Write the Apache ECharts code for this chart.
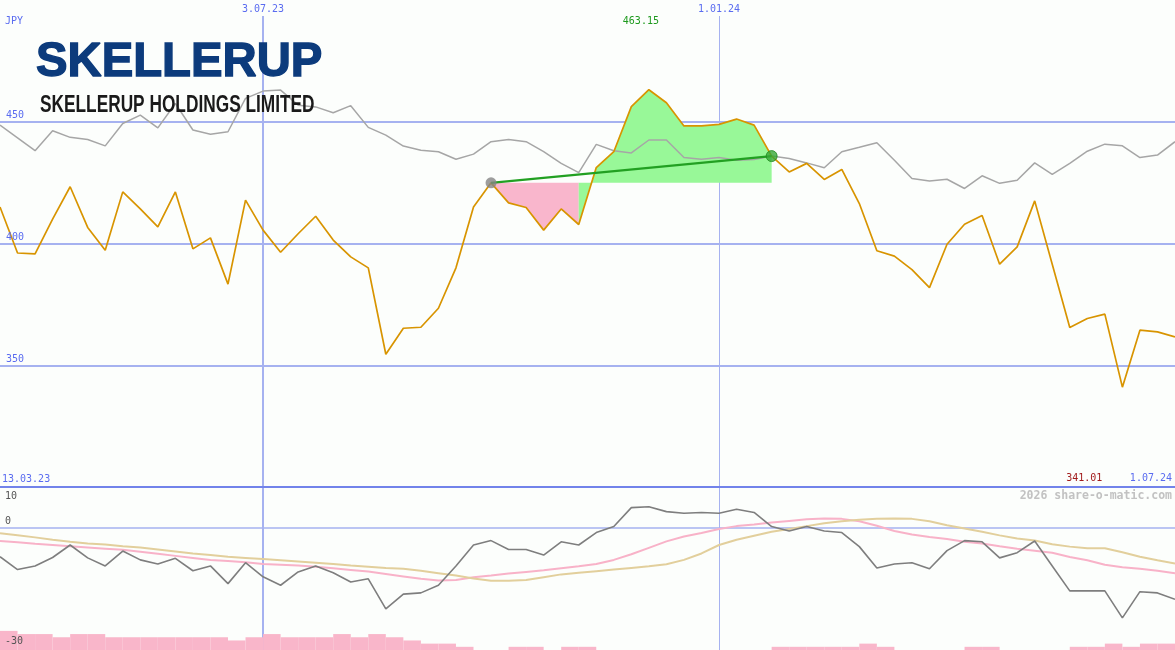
<!DOCTYPE html>
<html>
<head>
<meta charset="utf-8">
<script src="https://cdn.jsdelivr.net/npm/echarts@6/dist/echarts.min.js"></script>
<style>
html,body{margin:0;padding:0;background:#fcfefc;}
#c{width:1175px;height:650px;}
</style>
</head>
<body>
<div id="c"></div>
<script>
// ---------- data ----------
const weeks = ['20.03.23','27.03.23','3.04.23','10.04.23','17.04.23','24.04.23','1.05.23','8.05.23','15.05.23','22.05.23',
  '29.05.23','5.06.23','12.06.23','19.06.23','26.06.23','3.07.23','10.07.23','17.07.23','24.07.23','31.07.23',
  '7.08.23','14.08.23','21.08.23','28.08.23','4.09.23','11.09.23','18.09.23','25.09.23','2.10.23','9.10.23',
  '16.10.23','23.10.23','30.10.23','6.11.23','13.11.23','20.11.23','27.11.23','4.12.23','11.12.23','18.12.23',
  '25.12.23','1.01.24','8.01.24','15.01.24','22.01.24','29.01.24','5.02.24','12.02.24','19.02.24','26.02.24',
  '4.03.24','11.03.24','18.03.24','25.03.24','1.04.24','8.04.24','15.04.24','22.04.24','29.04.24','6.05.24',
  '13.05.24','20.05.24','27.05.24','3.06.24','10.06.24','17.06.24','24.06.24','1.07.24'];

const price = [415.0,396.1,395.7,410.0,423.3,406.6,397.2,421.2,414.2,406.8,
  421.2,397.8,402.3,383.3,417.8,405.5,396.4,404.0,411.2,401.4,
  394.5,390.0,354.5,365.2,365.6,373.4,390.0,415.0,424.9,416.7,
  414.8,405.5,414.2,407.8,431.2,437.7,456.2,463.15,457.8,448.3,
  448.3,448.9,451.1,448.6,435.9,429.4,432.9,426.3,430.4,416.4,
  397.0,394.8,389.3,381.9,399.7,407.9,411.5,391.5,398.6,417.5,
  391.5,365.5,369.2,371.0,341.01,364.4,363.7,361.6];

const relative = [448.6,443.4,438.1,446.3,443.6,442.7,440.1,449.3,452.7,447.5,
  457.5,446.6,444.9,445.9,459.6,462.6,463.0,456.8,456.1,453.7,
  456.6,447.7,444.5,440.0,438.3,437.7,434.6,436.7,441.8,442.7,
  441.8,437.7,432.9,429.1,440.7,438.1,437.2,442.5,442.5,435.3,
  434.6,435.3,434.2,434.5,435.9,434.9,433.1,431.1,437.7,439.5,
  441.4,434.2,426.7,425.7,426.4,422.6,427.8,424.7,426.0,433.1,
  428.4,432.9,437.9,440.8,440.1,435.3,436.3,441.8];

const oscillator = [-7.2,-10.4,-9.5,-7.4,-4.3,-7.5,-9.5,-5.8,-8.0,-9.0,
  -7.6,-10.7,-9.5,-13.9,-8.7,-12.2,-14.3,-11.0,-9.5,-11.2,
  -13.5,-12.7,-20.2,-16.5,-16.2,-14.3,-9.5,-4.3,-3.2,-5.4,
  -5.4,-6.8,-3.5,-4.3,-1.2,0.3,5.0,5.2,4.0,3.6,
  3.8,3.6,4.6,3.8,0.3,-0.8,0.3,-0.8,-1.2,-4.7,
  -10.0,-9.0,-8.7,-10.2,-5.7,-3.2,-3.5,-7.5,-6.2,-3.3,
  -9.5,-15.7,-15.7,-15.7,-22.4,-15.9,-16.2,-17.8];

const oscFast = [-3.3,-3.6,-4.0,-4.3,-4.6,-4.9,-5.2,-5.5,-6.0,-6.5,
  -7.0,-7.5,-8.0,-8.3,-8.6,-9.0,-9.2,-9.4,-9.7,-10.1,
  -10.5,-10.9,-11.5,-12.1,-12.7,-13.1,-13.0,-12.3,-11.9,-11.4,
  -11.0,-10.6,-10.1,-9.6,-9.0,-8.0,-6.6,-5.0,-3.4,-2.2,
  -1.3,-0.3,0.4,0.8,1.3,1.7,2.1,2.3,2.2,1.6,
  0.5,-0.8,-1.7,-2.3,-2.8,-3.5,-3.9,-4.6,-5.2,-5.7,
  -6.2,-7.3,-8.1,-9.2,-9.8,-10.2,-10.7,-11.3];

const oscSlow = [-1.4,-1.9,-2.4,-3.0,-3.5,-3.9,-4.2,-4.6,-4.9,-5.4,
  -5.9,-6.4,-6.8,-7.2,-7.5,-7.8,-8.1,-8.4,-8.7,-9.0,
  -9.4,-9.7,-10.0,-10.2,-10.7,-11.3,-11.9,-12.6,-13.2,-13.2,
  -13.0,-12.3,-11.6,-11.2,-10.8,-10.4,-10.0,-9.6,-9.1,-8.0,
  -6.4,-4.3,-3.0,-2.0,-1.0,-0.3,0.4,1.1,1.6,2.0,
  2.2,2.3,2.2,1.6,0.6,-0.2,-1.0,-1.9,-2.7,-3.2,
  -4.1,-4.7,-5.1,-5.1,-6.1,-7.2,-8.1,-8.9];

// one bar per week interval (between consecutive points)
const volume = [6,5,5,4,5,5,4,4,4,4,
  4,4,4,3,4,5,4,4,4,5,
  4,5,4,3,2,2,1,0,0,1,
  1,0,1,1,0,0,0,0,0,0,
  0,0,0,0,1,1,1,1,1,2,
  1,0,0,0,0,1,1,0,0,0,
  0,1,1,2,1,2,2];

const priceTicks = [450, 400, 350];
const oscTicks = [10, 0, -30];
const markedDates = ['3.07.23', '1.01.24'];
const startLabel = '13.03.23';
const endLabel = '1.07.24';
const currency = 'JPY';
const companyLogo = 'SKELLERUP';
const companyName = 'SKELLERUP HOLDINGS LIMITED';
const watermark = '2026 share-o-matic.com';
const trendFrom = 28, trendTo = 44;

// ---------- chart ----------
const chart = echarts.init(document.getElementById('c'));
const FONT = '"DejaVu Sans Mono", monospace';
const BLUE_TXT = '#5a6cf0';
const GRID_LINE = '#a6b2f0';

const priceMin = 300, priceMax = 500, mainBottom = 487, lineTop = 16;
const mainAxisMax = priceMax - lineTop * (priceMax - priceMin) / mainBottom;
const oscMax = 10, oscMin = -30.4;

const base = price[trendFrom];
let cross = trendFrom + 1;
while (cross < trendTo && price[cross] < base) cross++;
const pinkArea = price.map((v, i) => (i >= trendFrom && i <= cross - 1) ? v : '-');
const greenArea = price.map((v, i) => (i >= cross - 1 && i <= trendTo) ? v : '-');
const trend = price.map((v, i) => (i === trendFrom || i === trendTo) ? v : '-');

const hidden = {axisLine: {show: false}, axisTick: {show: false}, axisLabel: {show: false}};
// one guide axis per marked date, drawn as a category split line
const guideAxis = (gridIndex, date, width) => Object.assign({
  type: 'category', gridIndex: gridIndex, data: weeks, boundaryGap: false,
  splitLine: {show: true, interval: (idx, val) => val === date,
    lineStyle: {color: GRID_LINE, width: width}}
}, hidden);

const option = {
  backgroundColor: '#fcfefc',
  animation: false,
  grid: [
    {left: 0, right: 0, top: lineTop, height: mainBottom - lineTop},
    {left: 0, right: 0, top: 487.5, bottom: 0},
    {left: 0, right: 0, top: 487.5, bottom: 0}
  ],
  xAxis: [
    {type: 'category', gridIndex: 0, data: weeks, boundaryGap: false,
      axisLine: {show: true, lineStyle: {color: '#7283ea', width: 2}},
      axisTick: {show: false}, axisLabel: {show: false}, splitLine: {show: false}},
    Object.assign({type: 'category', gridIndex: 1, data: weeks, boundaryGap: false, splitLine: {show: false}}, hidden),
    Object.assign({type: 'category', gridIndex: 2, data: weeks.slice(0, weeks.length - 1), boundaryGap: true,
      splitLine: {show: false}}, hidden),
    guideAxis(0, markedDates[0], 2),
    guideAxis(0, markedDates[1], 1),
    guideAxis(1, markedDates[0], 2),
    guideAxis(1, markedDates[1], 1)
  ],
  yAxis: [
    {type: 'value', gridIndex: 0, min: priceMin, max: mainAxisMax, interval: 50,
      axisLine: {show: false}, axisTick: {show: false}, axisLabel: {show: false},
      splitLine: {show: true, showMinLine: false, showMaxLine: false, lineStyle: {color: GRID_LINE, width: 2}}},
    Object.assign({type: 'value', gridIndex: 1, min: oscMin, max: oscMax, splitLine: {show: false}}, hidden),
    Object.assign({type: 'value', gridIndex: 2, min: 0, max: 51, splitLine: {show: false}}, hidden)
  ],
  series: [
    {name: 'down', type: 'line', xAxisIndex: 0, yAxisIndex: 0, data: pinkArea, symbol: 'none', z: 2,
      lineStyle: {width: 0, opacity: 0}, areaStyle: {color: '#f9b6cc', opacity: 1, origin: base}},
    {name: 'up', type: 'line', xAxisIndex: 0, yAxisIndex: 0, data: greenArea, symbol: 'none', z: 2,
      lineStyle: {width: 0, opacity: 0}, areaStyle: {color: '#98f898', opacity: 1, origin: base}},
    {name: 'relative', type: 'line', xAxisIndex: 0, yAxisIndex: 0, data: relative, symbol: 'none', z: 3,
      lineStyle: {color: '#a6a6a6', width: 1.5}},
    {name: 'price', type: 'line', xAxisIndex: 0, yAxisIndex: 0, data: price, symbol: 'none', z: 4,
      lineStyle: {color: '#d89400', width: 1.7}},
    {name: 'trend', type: 'line', xAxisIndex: 0, yAxisIndex: 0, data: trend, connectNulls: true, z: 5,
      symbol: 'none', lineStyle: {color: '#22a022', width: 2.2}},
    {name: 'ends', type: 'scatter', xAxisIndex: 0, yAxisIndex: 0, z: 6, symbolSize: 11,
      data: [
        {value: [trendFrom, price[trendFrom]], itemStyle: {color: '#858585'}},
        {value: [trendTo, price[trendTo]], itemStyle: {color: '#36a836', borderColor: '#1f8a1f', borderWidth: 1}}
      ]},
    {name: 'osc', type: 'line', xAxisIndex: 1, yAxisIndex: 1, data: oscillator, symbol: 'none', z: 4,
      lineStyle: {color: '#7e7e7e', width: 1.6},
      markLine: {z: 1, silent: true, symbol: 'none', label: {show: false}, animation: false,
        data: [{yAxis: 0, lineStyle: {color: GRID_LINE, width: 1.5, type: 'solid'}}]}},
    {name: 'fast', type: 'line', xAxisIndex: 1, yAxisIndex: 1, data: oscFast, symbol: 'none', z: 3,
      lineStyle: {color: '#f8b2c8', width: 2}},
    {name: 'slow', type: 'line', xAxisIndex: 1, yAxisIndex: 1, data: oscSlow, symbol: 'none', z: 3,
      lineStyle: {color: '#e2cf9c', width: 2}},
    {name: 'volume', type: 'bar', xAxisIndex: 2, yAxisIndex: 2, data: volume, z: 10,
      barWidth: '100%', barCategoryGap: '0%', itemStyle: {color: '#f9b6ca'}}
  ]
};
chart.setOption(option);

// ---------- texts placed from the axes ----------
const px = (xi, v) => chart.convertToPixel({xAxisIndex: 0, yAxisIndex: 0}, [xi, v]);
const oy = v => chart.convertToPixel({yAxisIndex: 1}, v);
const txt = (text, x, y, color, align, extra) => Object.assign({
  type: 'text', x: x, y: y, silent: true, z: 100,
  style: {text: text, fill: color, font: '10px ' + FONT, textAlign: align || 'left', textVerticalAlign: 'middle'}
}, extra || {});

const g = [];
g.push(txt(currency, 5, 21.5, BLUE_TXT));
markedDates.forEach(d => {
  const p = px(weeks.indexOf(d), priceMax);
  g.push(txt(d, p[0], 9, BLUE_TXT, 'center'));
});
priceTicks.forEach(v => {
  g.push(txt(String(v), 6, px(0, v)[1] - 6, BLUE_TXT));
});
oscTicks.forEach(v => {
  g.push(txt(String(v), 5, oy(v) + (v === oscMax ? 8.5 : -6.5), '#555555'));
});
const hi = Math.max(...price), lo = Math.min(...price);
const hiP = px(price.indexOf(hi), hi), loP = px(price.indexOf(lo), lo);
g.push(txt(hi.toFixed(2), hiP[0] - 8, 21, '#1e9a1e', 'center'));
g.push(txt(lo.toFixed(2), loP[0] - 20, 478, '#a21c1c', 'right'));
g.push(txt(startLabel, 2, 479, BLUE_TXT));
g.push(txt(endLabel, 1172, 478, BLUE_TXT, 'right'));
g.push({type: 'text', x: 1172, y: 496, silent: true, z: 100,
  style: {text: watermark, fill: '#c2c2c2', font: 'bold 11.5px ' + FONT, textAlign: 'right', textVerticalAlign: 'middle'}});
g.push({type: 'text', x: 36, y: 63, silent: true, z: 100, scaleX: 0.985,
  style: {text: companyLogo, fill: '#0c3b7c', stroke: '#0c3b7c', lineWidth: 1.4,
    font: '900 48px "Liberation Sans", Arial, sans-serif', textAlign: 'left', textVerticalAlign: 'middle'}});
g.push({type: 'text', x: 40, y: 105, silent: true, z: 100, scaleX: 0.72,
  style: {text: companyName, fill: '#1a1a1a',
    font: 'bold 24px "Liberation Sans", Arial, sans-serif', textAlign: 'left', textVerticalAlign: 'middle'}});

chart.setOption({graphic: g});
</script>
</body>
</html>
